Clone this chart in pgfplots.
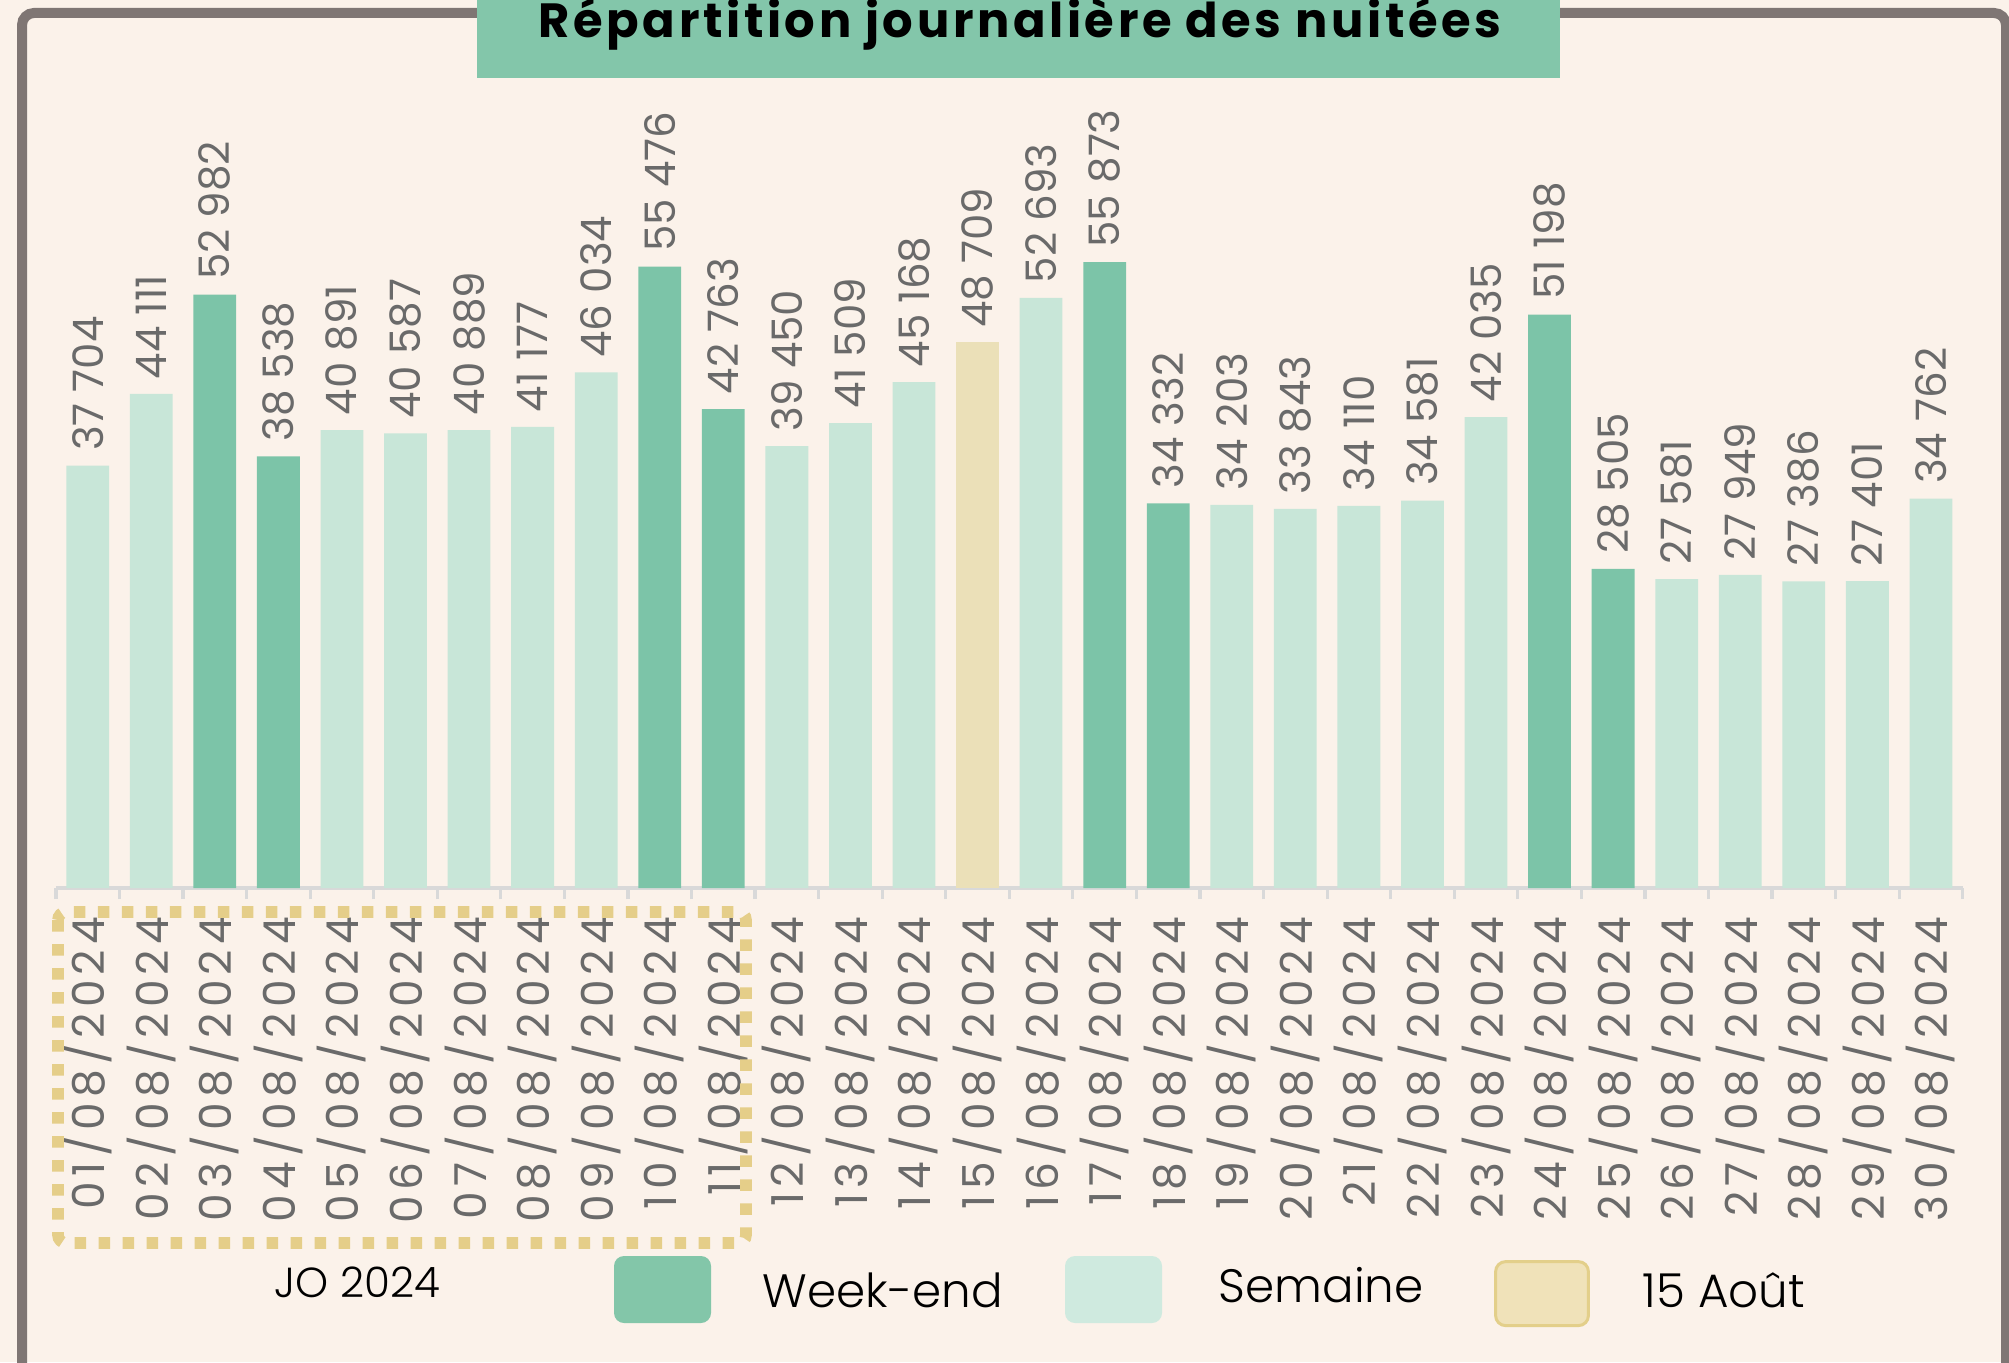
\documentclass[border=0pt]{standalone}
\usepackage{fontspec}
\setmainfont{Poppins}
\newfontfamily\lightfont{Poppins Light}
\newfontfamily\datefont{Poppins}[LetterSpace=12]
\newfontfamily\titlefont{Poppins}[LetterSpace=7.5]
\usepackage{pgfplots}
\pgfplotsset{compat=1.18}

\definecolor{bgcream}{HTML}{FBF2EA}
\definecolor{framegray}{HTML}{7F7674}
\definecolor{titlegreen}{HTML}{83C6AA}
\definecolor{weekend}{HTML}{7CC4A8}
\definecolor{semaine}{HTML}{C8E6D8}
\definecolor{aout}{HTML}{EBE0B8}
\definecolor{aoutedge}{HTML}{E3CF8A}
\definecolor{jogold}{HTML}{E5CE89}
\definecolor{axisgray}{HTML}{D9D9D9}
\definecolor{labelgray}{HTML}{6A6A6A}
\definecolor{legweek}{HTML}{83C6A9}
\definecolor{legsem}{HTML}{CFEADF}
\definecolor{legaout}{HTML}{F0E2B9}

\begin{document}
\begin{tikzpicture}
\useasboundingbox (0,0) rectangle (502.25pt,340.5pt);
\fill[bgcream] (0,0) rectangle (502.25pt,340.5pt);
% frame, open at the bottom
\draw[framegray, line width=2.5pt, rounded corners=3pt]
  (5.5pt,-10pt) -- (5.5pt,337.25pt) -- (501.5pt,337.25pt) -- (501.5pt,-10pt);
\fill[titlegreen] (119.25pt,321pt) rectangle (390pt,345pt);
\node[anchor=base, inner sep=0pt, font=\titlefont\bfseries\fontsize{12}{14}\selectfont] at (255pt,331pt)
  {Répartition journalière des nuitées};

\begin{axis}[
  at={(13.975pt,118.5pt)}, anchor=south west,
  scale only axis, width=476.7pt, height=168pt,
  xmin=-0.5, xmax=29.5, ymin=0, ymax=60000,
  ybar,
  axis y line=none, axis x line*=bottom,
  x axis line style={draw=axisgray, line width=1pt, -},
  xtick={0,...,29},
  xticklabels={01/08/2024,02/08/2024,03/08/2024,04/08/2024,05/08/2024,06/08/2024,
    07/08/2024,08/08/2024,09/08/2024,10/08/2024,11/08/2024,12/08/2024,13/08/2024,
    14/08/2024,15/08/2024,16/08/2024,17/08/2024,18/08/2024,19/08/2024,20/08/2024,
    21/08/2024,22/08/2024,23/08/2024,24/08/2024,25/08/2024,26/08/2024,27/08/2024,
    28/08/2024,29/08/2024,30/08/2024},
  minor xtick={-0.5,0.5,...,29.5},
  major tick length=0pt, minor tick length=2.75pt,
  tick align=outside,
  minor x tick style={draw=axisgray, line width=0.8pt},
  xticklabel style={rotate=90, anchor=east, inner xsep=7pt, inner ysep=0pt,
    font=\datefont\fontsize{11}{13}\selectfont, text=labelgray},
  clip=false,
  /pgf/number format/assume math mode=true,
  /pgf/number format/1000 sep={\ },
  nodes near coords,
  every node near coord/.append style={rotate=90, anchor=west, inner xsep=3.5pt,
    inner ysep=0pt, font=\fontsize{10.5}{12}\selectfont, text=labelgray},
]
% semaine
\addplot[fill=semaine, draw=none, bar width=10.7pt, bar shift=0pt] coordinates {
  (0,37704) (1,44111) (4,40891) (5,40587) (6,40889) (7,41177) (8,46034)
  (11,39450) (12,41509) (13,45168) (15,52693) (18,34203) (19,33843) (20,34110)
  (21,34581) (22,42035) (25,27581) (26,27949) (27,27386) (28,27401) (29,34762)};
% week-end
\addplot[fill=weekend, draw=none, bar width=10.7pt, bar shift=0pt] coordinates {
  (2,52982) (3,38538) (9,55476) (10,42763) (16,55873) (17,34332) (23,51198) (24,28505)};
% 15 aout
\addplot[fill=aout, draw=none, bar width=10.7pt, bar shift=0pt] coordinates {(14,48709)};
\end{axis}

% JO 2024 frame
\draw[jogold, line width=2.9pt, dash pattern=on 2.9pt off 3.1pt, rounded corners=2pt]
  (14.5pt,112.5pt) rectangle (186.5pt,29.75pt);
\node[anchor=base, inner sep=0pt, font=\lightfont\fontsize{10.5}{12}\selectfont] at (89.4pt,16.25pt) {JO 2024};

% legend
\fill[legweek, rounded corners=2.5pt] (153.5pt,9.75pt) rectangle (177.75pt,26.5pt);
\fill[legsem, rounded corners=2.5pt] (266.25pt,9.75pt) rectangle (290.5pt,26.5pt);
\draw[aoutedge, fill=legaout, line width=0.75pt, rounded corners=2.5pt] (373.9pt,9.1pt) rectangle (397.1pt,25.1pt);
\node[anchor=base west, inner sep=0pt, font=\lightfont\fontsize{11.7}{14}\selectfont] at (190.5pt,13.75pt) {Week-end};
\node[anchor=base west, inner sep=0pt, font=\lightfont\fontsize{11.7}{14}\selectfont] at (304.5pt,15pt) {Semaine};
\node[anchor=base west, inner sep=0pt, font=\lightfont\fontsize{11.7}{14}\selectfont] at (410.5pt,13.75pt) {15 Août};
\end{tikzpicture}
\end{document}
